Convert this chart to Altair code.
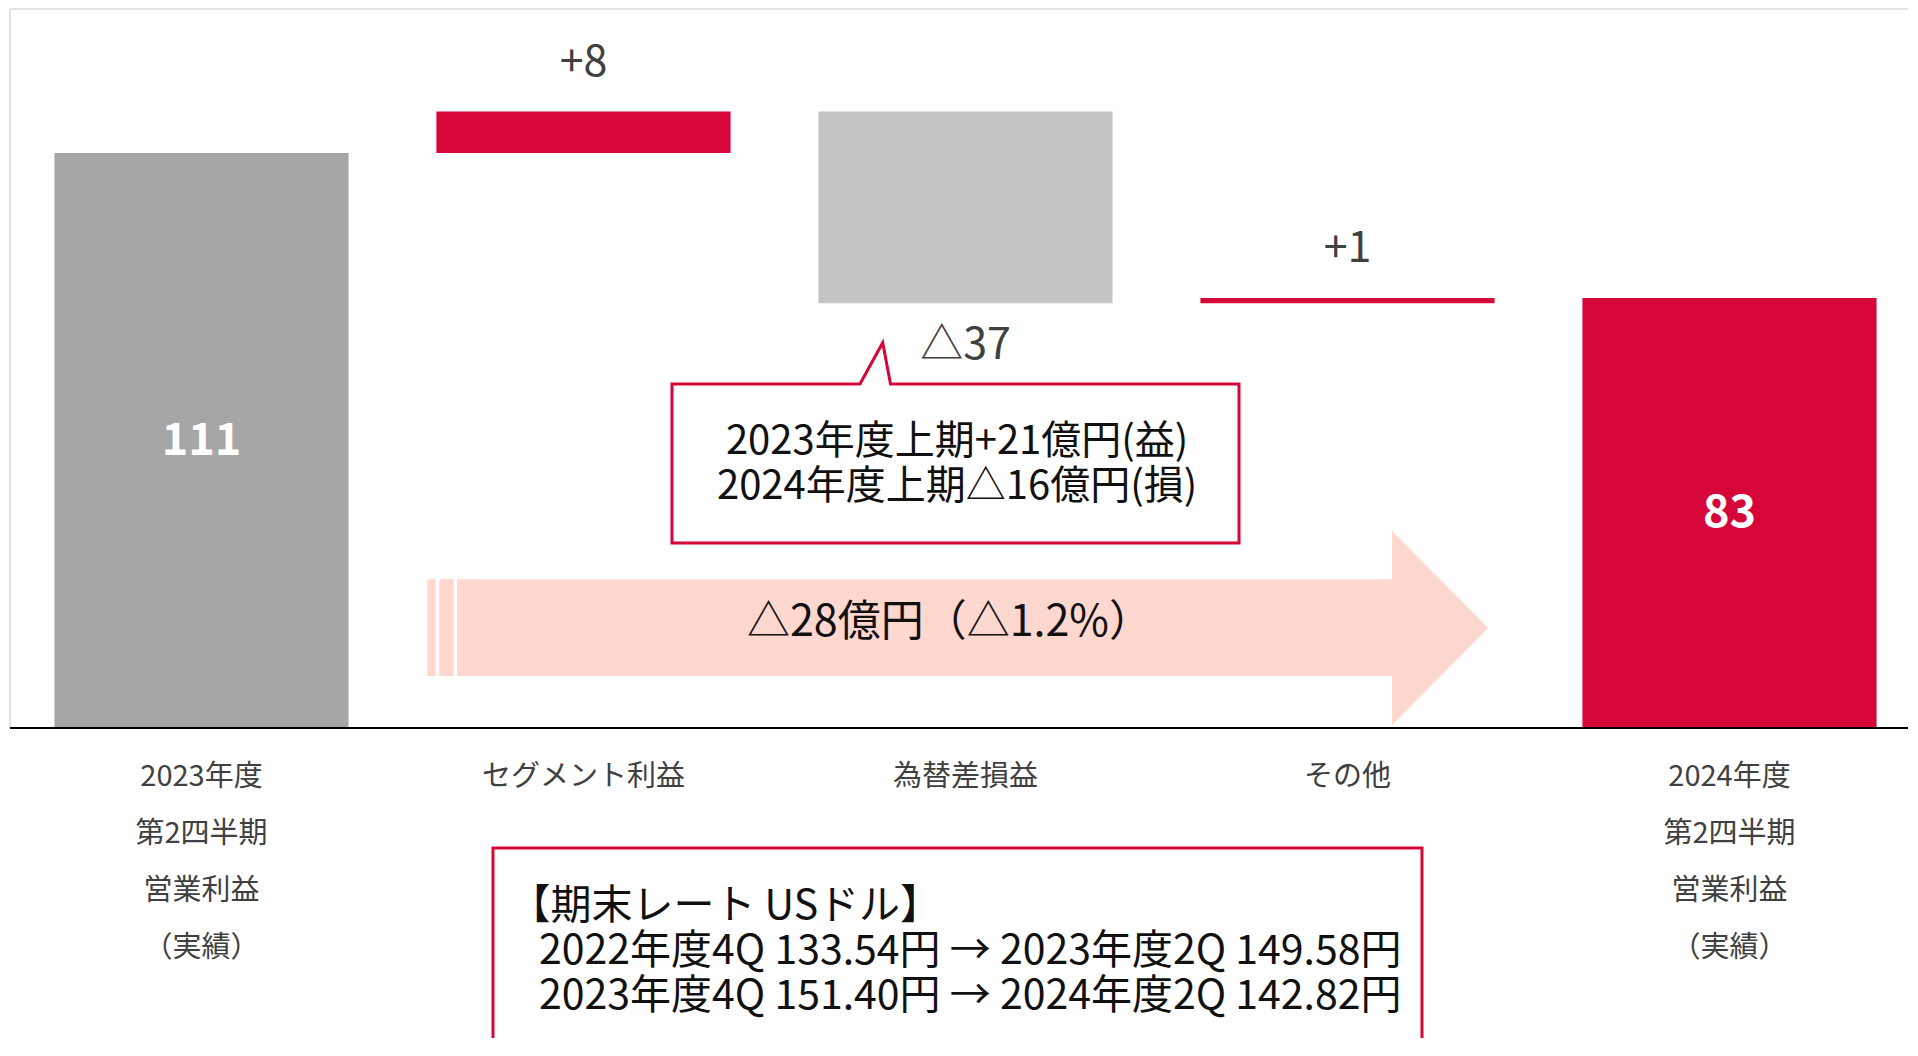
import altair as alt
import pandas as pd

# ---------------- data ----------------
categories = ["2023年度第2四半期営業利益（実績）", "セグメント利益", "為替差損益", "その他",
              "2024年度第2四半期営業利益（実績）"]
category_lines = [["2023年度", "第2四半期", "営業利益", "（実績）"],
                  ["セグメント利益"],
                  ["為替差損益"],
                  ["その他"],
                  ["2024年度", "第2四半期", "営業利益", "（実績）"]]
values = [111, 8, -37, 1, 83]
kinds = ["total", "delta", "delta", "delta", "total"]
value_labels = ["111", "+8", "△37", "+1", "83"]
bar_colors = ["#a6a6a6", "#d70638", "#c4c4c4", "#d70638", "#d70638"]

callout_lines = ["2023年度上期+21億円(益)", "2024年度上期△16億円(損)"]
arrow_label = "△28億円（△1.2%）"
rate_lines = ["【期末レート USドル】",
              "2022年度4Q 133.54円 → 2023年度2Q 149.58円",
              "2023年度4Q 151.40円 → 2024年度2Q 142.82円"]

# annotation geometry in data units (x: category index, y: 億円)
callout_path_x = [1.978, 2.716, 2.716, 1.8037, 1.7833, 1.7238, 1.2317, 1.2317, 1.978]
callout_path_y = [35.71, 35.71, 66.41, 66.41, 74.38, 66.41, 66.41, 35.71, 35.71]
callout_text_x = 1.978
callout_text_y = [55.21, 46.53]

arrow_shaft_x = [0.5911, 0.6225, 0.6688]
arrow_shaft_x2 = [0.6131, 0.6602, 3.1165]
arrow_shaft_y = [28.71, 28.71, 28.71]
arrow_shaft_y2 = [10.04, 10.04, 10.04]
arrow_head_x = [3.1165, 3.3678]
arrow_head_y = [38.03, 19.31]
arrow_head_y2 = [0.58, 19.31]
arrow_text_x = 1.958
arrow_text_y = 20.27

rate_box_x = [0.7631, 0.7631, 3.1950, 3.1950]
rate_box_top = -23.17
rate_text_x = [0.806, 0.8835, 0.8835]
rate_text_y = [-34.56, -43.24, -51.93]

label_line_y = [-9.46, -20.46, -31.47, -42.47]

# ---------------- scales ----------------
W, H = 1900, 1030
XMIN, XMAX = -0.50654, 4.46728
YMIN, YMAX = -59.846, 138.996
xs = alt.Scale(domain=[XMIN, XMAX], nice=False, zero=False)
ys = alt.Scale(domain=[YMIN, YMAX], nice=False, zero=False)


def X(f):
    return alt.X(f, type="quantitative", scale=xs, axis=None)


def Y(f):
    return alt.Y(f, type="quantitative", scale=ys, axis=None)


RED = "#d70638"
FONT = "Noto Sans CJK JP"

# waterfall table
rows = []
running = 0
for i, (c, v, k, lab, col) in enumerate(zip(categories, values, kinds, value_labels, bar_colors)):
    if k == "total":
        start, end = 0, v
    else:
        start, end = running, running + v
    running = end
    rows.append(dict(i=i, cat=c, x1=i - 0.385, x2=i + 0.385, start=start, end=end,
                     lo=min(start, end), hi=max(start, end), mid=(start + end) / 2,
                     label=lab, color=col, kind=k, v=v))
bars_df = pd.DataFrame(rows)

bars = alt.Chart(bars_df).mark_rect().encode(
    x=X("x1"), x2="x2", y=Y("start"), y2="end",
    color=alt.Color("color:N", scale=None))

total_labels = alt.Chart(bars_df[bars_df.kind == "total"]).mark_text(
    font=FONT, fontSize=45, fontWeight="bold", color="white", baseline="middle"
).encode(x=X("i"), y=Y("mid"), text="label:N")

pos_labels = alt.Chart(bars_df[(bars_df.kind == "delta") & (bars_df.v > 0)]).mark_text(
    font=FONT, fontSize=43, color="#404040", baseline="middle", dy=-49
).encode(x=X("i"), y=Y("hi"), text="label:N")

neg_labels = alt.Chart(bars_df[(bars_df.kind == "delta") & (bars_df.v < 0)]).mark_text(
    font=FONT, fontSize=43, color="#404040", baseline="middle", dy=43
).encode(x=X("i"), y=Y("lo"), text="label:N")

# frame and axis
frame_df = pd.DataFrame({"x": [-0.5013, -0.5013], "x2": [XMAX, -0.5013],
                         "y": [138.8, 138.8], "y2": [138.8, 0]})
frame = alt.Chart(frame_df).mark_rule(color="#e3e3e3", strokeWidth=2).encode(
    x=X("x"), x2="x2", y=Y("y"), y2="y2")
axis_df = pd.DataFrame({"x": [-0.5013], "x2": [XMAX], "y": [0]})
axis_line = alt.Chart(axis_df).mark_rule(color="#000000", strokeWidth=2).encode(
    x=X("x"), x2="x2", y=Y("y"))

# arrow
shaft_df = pd.DataFrame({"x": arrow_shaft_x, "x2": arrow_shaft_x2,
                         "y": arrow_shaft_y, "y2": arrow_shaft_y2})
shaft = alt.Chart(shaft_df).mark_rect(color="#fed7cf").encode(
    x=X("x"), x2="x2", y=Y("y"), y2="y2")
head_df = pd.DataFrame({"x": arrow_head_x, "y": arrow_head_y, "y2": arrow_head_y2})
head = alt.Chart(head_df).mark_area(color="#fed7cf", orient="vertical").encode(
    x=X("x"), y=Y("y"), y2="y2")
arrow_txt = alt.Chart(pd.DataFrame({"x": [arrow_text_x], "y": [arrow_text_y], "t": [arrow_label]})
                      ).mark_text(font=FONT, fontSize=43, color="#111111", baseline="middle").encode(
    x=X("x"), y=Y("y"), text="t:N")

# callout
callout_df = pd.DataFrame({"x": callout_path_x, "y": callout_path_y,
                           "o": list(range(len(callout_path_x)))})
callout = alt.Chart(callout_df).mark_line(color=RED, strokeWidth=3, strokeJoin="miter").encode(
    x=X("x"), y=Y("y"), order="o:Q")
callout_txt = alt.Chart(pd.DataFrame({"x": [callout_text_x] * 2, "y": callout_text_y,
                                      "t": callout_lines})).mark_text(
    font=FONT, fontSize=40, color="#111111", baseline="middle").encode(
    x=X("x"), y=Y("y"), text="t:N")

# category labels
lab_rows = []
for i, lines in enumerate(category_lines):
    for k, t in enumerate(lines):
        lab_rows.append(dict(x=i, y=label_line_y[k], t=t))
cat_labels = alt.Chart(pd.DataFrame(lab_rows)).mark_text(
    font=FONT, fontSize=29, color="#404040", baseline="middle").encode(
    x=X("x"), y=Y("y"), text="t:N")

# rate box
rate_df = pd.DataFrame({"x": rate_box_x, "y": [YMIN, rate_box_top, rate_box_top, YMIN],
                        "o": [0, 1, 2, 3]})
rate_box = alt.Chart(rate_df).mark_line(color=RED, strokeWidth=3, strokeJoin="miter").encode(
    x=X("x"), y=Y("y"), order="o:Q")
rate_txt = alt.Chart(pd.DataFrame({"x": rate_text_x, "y": rate_text_y, "t": rate_lines})).mark_text(
    font=FONT, fontSize=41, color="#111111", baseline="middle", align="left").encode(
    x=X("x"), y=Y("y"), text="t:N")

chart = alt.layer(
    frame, shaft, head, bars, axis_line, total_labels, pos_labels, neg_labels,
    callout, callout_txt, arrow_txt, cat_labels, rate_box, rate_txt
).properties(
    width=W, height=H, padding=0,
    autosize=alt.AutoSizeParams(type="none")
).configure_view(stroke=None)

chart.save("out.html", embed_options={"renderer": "svg", "actions": False})
